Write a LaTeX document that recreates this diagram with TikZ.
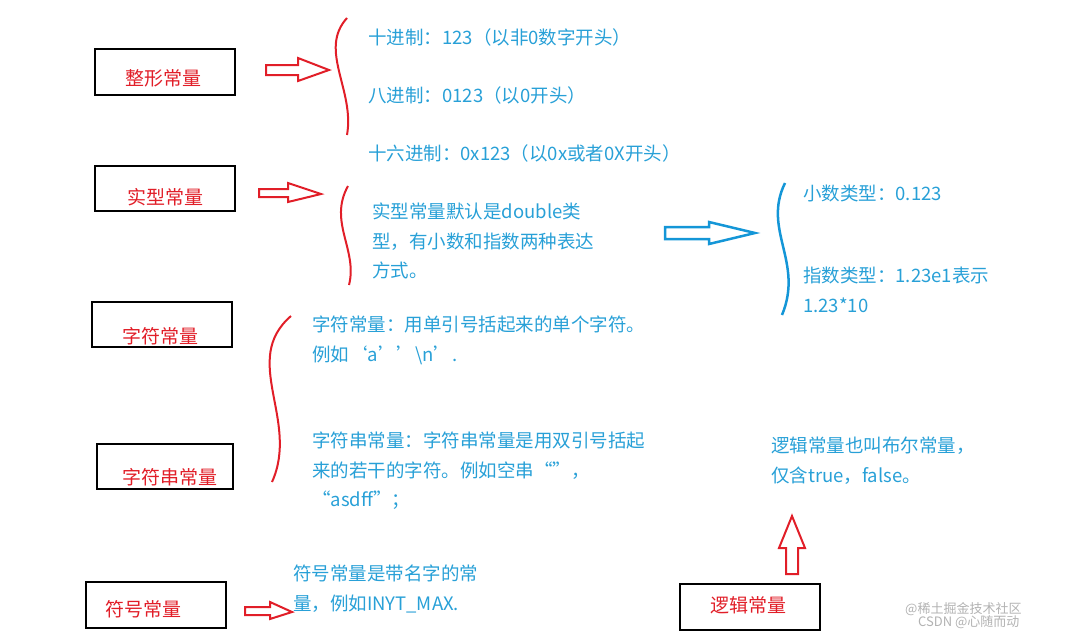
\documentclass[tikz,border=0pt]{standalone}
\usepackage{fontspec}
\setmainfont{Noto Sans CJK SC}
\definecolor{tc}{RGB}{40,160,215}
\definecolor{rc}{RGB}{225,30,40}
\definecolor{bl}{RGB}{20,150,215}
\begin{document}
\begin{tikzpicture}[x=1pt,y=-1pt,
  box/.style={draw=black,line width=2.2pt},
  lbl/.style={text=rc,font=\fontsize{19}{22}\selectfont,inner sep=0pt},
  txt/.style={text=tc,font=\fontsize{18.5}{29.5}\selectfont,inner sep=0pt,anchor=west,align=left},
  redl/.style={draw=rc,line width=2pt},
  bluel/.style={draw=bl,line width=2.5pt},
  wm/.style={text=gray!60,font=\fontsize{13}{14}\selectfont,inner sep=0pt,anchor=west}]
\useasboundingbox (0,0) rectangle (1085,640);
% boxes
\draw[box] (95,49) rectangle (235,95);
\node[lbl] (l1) at (163,78) {整形常量};
\draw[box] (95,166) rectangle (235,211);
\node[lbl] (l2) at (165,197) {实型常量};
\draw[box] (92,302) rectangle (232,347);
\node[lbl] (l3) at (160,336) {字符常量};
\draw[box] (97,444) rectangle (233,489);
\node[lbl] (l4) at (170,477) {字符串常量};
\draw[box] (86,582) rectangle (226,628);
\node[lbl] (l5) at (143,609) {符号常量};
\draw[box] (680,584) rectangle (820,630);
\node[lbl] (l6) at (748,605) {逻辑常量};
% hollow arrows
\draw[redl] (266,65)--(298,65)--(298,58)--(329,70)--(298,81)--(298,75)--(266,75)--cycle;
\draw[redl] (259,189)--(288,189)--(288,183)--(321,194)--(288,202)--(288,197)--(259,197)--cycle;
\draw[redl] (245,607)--(270,607)--(270,602)--(292,612)--(270,619)--(270,615)--(245,615)--cycle;
\draw[redl] (786,574)--(786,548)--(779,548)--(792,516)--(805,548)--(798,548)--(798,574)--cycle;
\draw[bluel] (665,227)--(709,227)--(709,222)--(755,233)--(709,244)--(709,239)--(665,239)--cycle;
% braces
\draw[redl] (347,18) .. controls (318,50) and (355,90) .. (347,135);
\draw[redl] (348,186) .. controls (328,222) and (358,250) .. (349,285);
\draw[redl] (291,316) .. controls (240,360) and (300,420) .. (272,482);
\draw[bluel] (785,183) .. controls (762,230) and (804,262) .. (782,315);
% texts
\node[txt] (t1) at (368,37) {十进制：123（以非0数字开头）};
\node[txt] (t2) at (368,95) {八进制：0123（以0开头）};
\node[txt] (t3) at (368,153) {十六进制：0x123（以0x或者0X开头）};
\node[txt,anchor=north west] (t4) at (372,203) {实型常量默认是double类\\型，有小数和指数两种表达\\方式。};
\node[txt] (t5) at (803,193) {小数类型：0.123};
\node[txt,anchor=north west] (t6) at (803,267) {指数类型：1.23e1表示\\1.23*10};
\node[txt,anchor=north west] (t7) at (312,316) {字符常量：用单引号括起来的单个字符。\\例如‘a’’\textbackslash n’.};
\node[txt,anchor=north west] (t8) at (312,432) {字符串常量：字符串常量是用双引号括起\\来的若干的字符。例如空串“”，\\“asdff”；};
\node[txt,anchor=north west] (t9) at (771,437) {逻辑常量也叫布尔常量，\\仅含true，false。};
\node[txt,anchor=north west] (t10) at (293,565) {符号常量是带名字的常\\量，例如INYT\_MAX.};
\node[wm] (w1) at (905,609) {@稀土掘金技术社区};
\node[wm] (w2) at (918,622) {CSDN @心随而动};
\end{tikzpicture}
\end{document}
